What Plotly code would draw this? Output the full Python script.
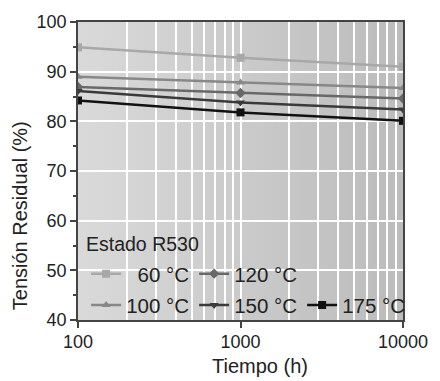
import plotly.graph_objects as go

tiempo = [100, 1000, 10000]
t60 = [94.9, 92.8, 91.0]
t100 = [89.0, 87.8, 86.7]
t120 = [86.9, 85.7, 84.6]
t150 = [86.1, 83.8, 82.4]
t175 = [84.2, 81.8, 80.1]

x_major = [100, 1000, 10000]
x_major_text = ["100", "1000", "10000"]
x_minor = [200, 300, 400, 500, 600, 700, 800, 900,
           2000, 3000, 4000, 5000, 6000, 7000, 8000, 9000]
x_grid = sorted(x_major + x_minor)
x_grid_text = [str(v) if v in x_major else "" for v in x_grid]

series = [
    ("\u200760 °C", t60, "#a8a8a8", "square", "legend"),
    ("120 °C", t120, "#686868", "diamond", "legend"),
    ("100 °C", t100, "#888888", "triangle-up", "legend2"),
    ("150 °C", t150, "#3a3a3a", "triangle-down", "legend2"),
    ("175 °C", t175, "#111111", "square", "legend2"),
]

fig = go.Figure()
# gradient background strips
n = 40
c0 = (0xd9, 0xd9, 0xd9)
c1 = (0xbc, 0xbc, 0xbc)
for i in range(n):
    f = i / (n - 1)
    col = tuple(int(round(c0[k] + (c1[k] - c0[k]) * f)) for k in range(3))
    fig.add_shape(type="rect", xref="paper", yref="paper",
                  x0=i / n, x1=(i + 1) / n + 0.003, y0=0, y1=1,
                  fillcolor="rgb(%d,%d,%d)" % col, line_width=0, layer="below")

# hidden trace to activate tick-mark axis
fig.add_trace(go.Scatter(x=[x_major[0]], y=[None], xaxis="x2", yaxis="y",
                         showlegend=False, hoverinfo="skip", mode="lines"))

for name, ys, col, sym, lg in series:
    fig.add_trace(go.Scatter(x=tiempo, y=ys, name=name, mode="lines+markers",
                             line=dict(color=col, width=2.5),
                             marker=dict(symbol=sym, size=8, color=col),
                             legend=lg))

FAM = "Liberation Sans, Arial, sans-serif"
tick_font = dict(family=FAM, size=18, color="#222222")
title_font = dict(family=FAM, size=20, color="#222222")
leg_font = dict(family=FAM, size=20.5, color="#222222")

fig.update_layout(
    width=440, height=381,
    margin=dict(l=78, r=32, t=16, b=61),
    paper_bgcolor="white", plot_bgcolor="rgba(0,0,0,0)",
    font=tick_font,
    showlegend=True,
    legend=dict(orientation="h", x=0.025, y=0.155, xanchor="left", yanchor="middle",
                bgcolor="rgba(0,0,0,0)", font=leg_font, itemwidth=30,
                entrywidth=63, entrywidthmode="pixels", traceorder="normal"),
    legend2=dict(orientation="h", x=0.025, y=0.05, xanchor="left", yanchor="middle",
                 bgcolor="rgba(0,0,0,0)", font=leg_font, itemwidth=30,
                 entrywidth=63, entrywidthmode="pixels"),
    annotations=[
        dict(text="Estado R530", xref="paper", yref="paper",
             x=0.018, y=0.254, xanchor="left", yanchor="middle",
             showarrow=False, font=dict(family=FAM, size=19.5, color="#222222")),
        dict(text="Tiempo (h)", xref="paper", yref="paper",
             x=0.56, y=-0.155, xanchor="center", yanchor="middle",
             showarrow=False, font=title_font),
        dict(text="Tensión Residual (%)", xref="paper", yref="paper",
             x=-0.18, y=0.35, xanchor="center", yanchor="middle", textangle=-90,
             showarrow=False, font=title_font),
    ],
    xaxis=dict(type="log", range=[2, 4], tickvals=x_grid, ticktext=x_grid_text,
               showgrid=True, gridcolor="white", gridwidth=1.5,
               ticks="", tickfont=tick_font, ticklabelstandoff=5,
               showline=True, linecolor="#444444", linewidth=1.5, mirror=True,
               zeroline=False),
    xaxis2=dict(type="log", range=[2, 4], overlaying="x", anchor="y", side="bottom",
                tickvals=x_major, showticklabels=False,
                ticks="outside", ticklen=7, tickcolor="#444444", tickwidth=1.5,
                showgrid=False, showline=False, zeroline=False),
    yaxis=dict(range=[40, 100], dtick=10, tickfont=tick_font,
               showgrid=True, gridcolor="white", gridwidth=1.5,
               ticks="outside", ticklen=6, tickcolor="#444444", tickwidth=1.5,
               minor=dict(ticks="outside", ticklen=3, dtick=5, tickcolor="#444444",
                          showgrid=False),
               showline=True, linecolor="#444444", linewidth=1.5, mirror=True,
               zeroline=False),
)
fig.write_html("out.html")
